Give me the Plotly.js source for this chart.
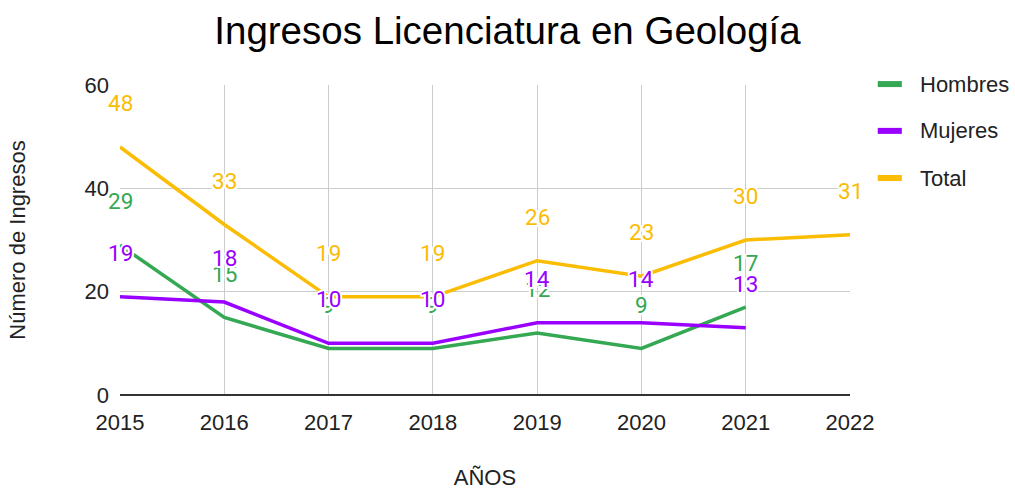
<!DOCTYPE html>
<html>
<head>
<meta charset="utf-8">
<script src="https://cdn.plot.ly/plotly-3.0.1.min.js"></script>
<style>html,body{margin:0;padding:0;background:#fff;}#chart{width:1015px;height:490px;}</style>
</head>
<body>
<div id="chart"></div>
<script>
const years = [2015, 2016, 2017, 2018, 2019, 2020, 2021, 2022];
const hombres = [29, 15, 9, 9, 12, 9, 17, null];
const mujeres = [19, 18, 10, 10, 14, 14, 13, null];
const total = [48, 33, 19, 19, 26, 23, 30, 31];
const yTicks = [0, 20, 40, 60];
const seriesNames = ['Hombres', 'Mujeres', 'Total'];
const seriesColors = ['#34a853', '#9900ff', '#fbbc04'];
const seriesValues = [hombres, mujeres, total];

const arial = 'Arial, "Liberation Sans", sans-serif';
const roboto = 'Roboto, Arial, sans-serif';
const halo = 'white 2px 0px 0px, white -2px 0px 0px, white 0px 2px 0px, white 0px -2px 0px, white 1.5px 1.5px 0px, white -1.5px -1.5px 0px, white 1.5px -1.5px 0px, white -1.5px 1.5px 0px';

const traces = seriesValues.map((vals, i) => ({
  x: years, y: vals, type: 'scatter', mode: 'lines', name: seriesNames[i],
  line: {color: seriesColors[i], width: 3.5}, connectgaps: false,
  showlegend: false
}));

const annotations = [];
seriesValues.forEach((vals, i) => {
  vals.forEach((v, j) => {
    if (v === null) return;
    annotations.push({
      x: years[j], y: v, xref: 'x', yref: 'y', text: String(v), showarrow: false,
      yshift: 44, xanchor: 'center', yanchor: 'middle',
      font: {family: roboto, size: 22.5, color: seriesColors[i], shadow: halo}
    });
  });
});

// custom legend (short thick swatches)
const legendRowsY = [1.003, 0.852, 0.700];
const shapes = [];
seriesNames.forEach((name, i) => {
  shapes.push({type: 'line', xref: 'paper', yref: 'paper', x0: 1.038, x1: 1.071,
    y0: legendRowsY[i], y1: legendRowsY[i], line: {color: seriesColors[i], width: 6}});
  annotations.push({xref: 'paper', yref: 'paper', x: 1.093, y: legendRowsY[i], text: name,
    showarrow: false, xanchor: 'left', yanchor: 'middle',
    font: {family: arial, size: 22, color: '#222222'}});
});

const layout = {
  width: 1015, height: 490,
  margin: {l: 120, r: 165, t: 85, b: 95},
  paper_bgcolor: '#ffffff', plot_bgcolor: '#ffffff',
  title: {text: 'Ingresos Licenciatura en Geología', x: 0.5, xanchor: 'center', y: 0.938, yanchor: 'middle',
    font: {family: arial, size: 38.5, color: '#000000'}},
  xaxis: {range: [2015, 2022], tickvals: years, ticktext: years.map(String), showgrid: true,
    gridcolor: '#cccccc', gridwidth: 1, zeroline: false, showline: false, ticks: '',
    ticklabelstandoff: 12,
    tickfont: {family: arial, size: 22, color: '#222222'},
    title: {text: 'AÑOS', font: {family: arial, size: 22, color: '#222222'}, standoff: 38}},
  yaxis: {range: [0, 60], tickvals: yTicks, showgrid: true, gridcolor: '#cccccc', gridwidth: 1,
    zeroline: true, zerolinecolor: '#333333', zerolinewidth: 2, showline: false, ticks: '',
    ticklabelstandoff: 10,
    tickfont: {family: arial, size: 22, color: '#222222'},
    title: {text: 'Número de Ingresos', font: {family: arial, size: 22, color: '#222222'}, standoff: 52}},
  annotations: annotations,
  shapes: shapes,
  showlegend: false
};

Plotly.newPlot('chart', traces, layout, {displayModeBar: false, staticPlot: true});
</script>
</body>
</html>
